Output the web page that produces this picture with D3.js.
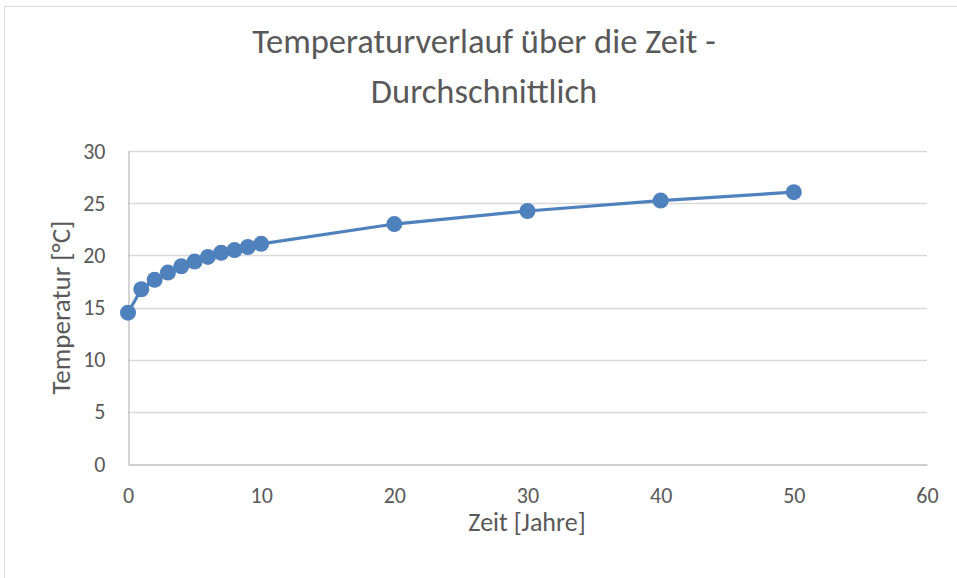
<!DOCTYPE html>
<html>
<head>
<meta charset="utf-8">
<script src="https://cdn.jsdelivr.net/npm/d3@7"></script>
<style>
body { margin: 0; background: #fff; }
text { font-family: Carlito, Calibri, "Open Sans", sans-serif; fill: #595959; }
</style>
</head>
<body>
<div id="chart"></div>
<script>
var W = 957, H = 578;

// data
var years = [0, 1, 2, 3, 4, 5, 6, 7, 8, 9, 10, 20, 30, 40, 50];
var temps = [14.5, 16.75, 17.65, 18.35, 18.95, 19.4, 19.85, 20.25, 20.5, 20.8, 21.1, 23.0, 24.25, 25.25, 26.05];
var xTicks = [0, 10, 20, 30, 40, 50, 60];
var yTicks = [0, 5, 10, 15, 20, 25, 30];
var titleLines = ['Temperaturverlauf über die Zeit -', 'Durchschnittlich'];
var xTitle = 'Zeit [Jahre]';
var yTitle = 'Temperatur [°C]';

var plotL = 128, plotR = 927, plotT = 151, plotB = 464;
var blue = '#4f81bd';

var svg = d3.select('#chart').append('svg')
	.attr('width', W)
	.attr('height', H);

svg.append('rect')
	.attr('width', W).attr('height', H)
	.attr('fill', '#fff');

// outer chart frame (only top and left edges fall inside the picture)
svg.append('rect')
	.attr('x', 4.5).attr('y', 6.5)
	.attr('width', 1000).attr('height', 1000)
	.attr('fill', 'none')
	.attr('stroke', '#d9d9d9');

var x = d3.scaleLinear().domain([0, 60]).range([plotL, plotR]);
var y = d3.scaleLinear().domain([0, 30]).range([plotB, plotT]);

// gridlines
svg.append('g').selectAll('line')
	.data(yTicks.filter(function(d) { return d > 0; }))
	.enter().append('line')
	.attr('x1', plotL).attr('x2', plotR)
	.attr('y1', function(d) { return Math.round(y(d)) + 0.5; })
	.attr('y2', function(d) { return Math.round(y(d)) + 0.5; })
	.attr('stroke', '#d9d9d9')
	.attr('stroke-width', 1.3);

// axes
var xAxis = svg.append('g')
	.attr('transform', 'translate(0,' + (plotB + 0.5) + ')')
	.call(d3.axisBottom(x).tickValues(xTicks).tickSize(0).tickPadding(22));
var yAxis = svg.append('g')
	.attr('transform', 'translate(' + (plotL + 0.5) + ',0)')
	.call(d3.axisLeft(y).tickValues(yTicks).tickSize(0).tickPadding(23));

[xAxis, yAxis].forEach(function(a) {
	a.select('.domain').attr('stroke', '#bfbfbf').attr('stroke-width', 1.3);
	a.selectAll('text')
		.attr('font-family', 'Carlito, Calibri, "Open Sans", sans-serif')
		.attr('font-size', '22px')
		.attr('fill', '#595959');
});
xAxis.selectAll('text').attr('dy', null).attr('y', 38);

// series
var line = d3.line()
	.x(function(d, i) { return x(years[i]); })
	.y(function(d) { return y(d); });

svg.append('path')
	.datum(temps)
	.attr('d', line)
	.attr('fill', 'none')
	.attr('stroke', blue)
	.attr('stroke-width', 3.2);

svg.append('g').selectAll('circle')
	.data(temps)
	.enter().append('circle')
	.attr('cx', function(d, i) { return x(years[i]); })
	.attr('cy', function(d) { return y(d); })
	.attr('r', 8)
	.attr('fill', blue);

// title
svg.append('g').selectAll('text')
	.data(titleLines)
	.enter().append('text')
	.attr('x', 484)
	.attr('y', function(d, i) { return 53 + i * 50; })
	.attr('text-anchor', 'middle')
	.attr('font-size', '34.5px')
	.text(function(d) { return d; });

// axis titles
svg.append('text')
	.attr('x', 527)
	.attr('y', 531)
	.attr('text-anchor', 'middle')
	.attr('font-size', '26px')
	.text(xTitle);

svg.append('text')
	.attr('transform', 'translate(70,' + ((plotT + plotB) / 2) + ') rotate(-90)')
	.attr('text-anchor', 'middle')
	.attr('font-size', '27px')
	.text(yTitle);
</script>
</body>
</html>
